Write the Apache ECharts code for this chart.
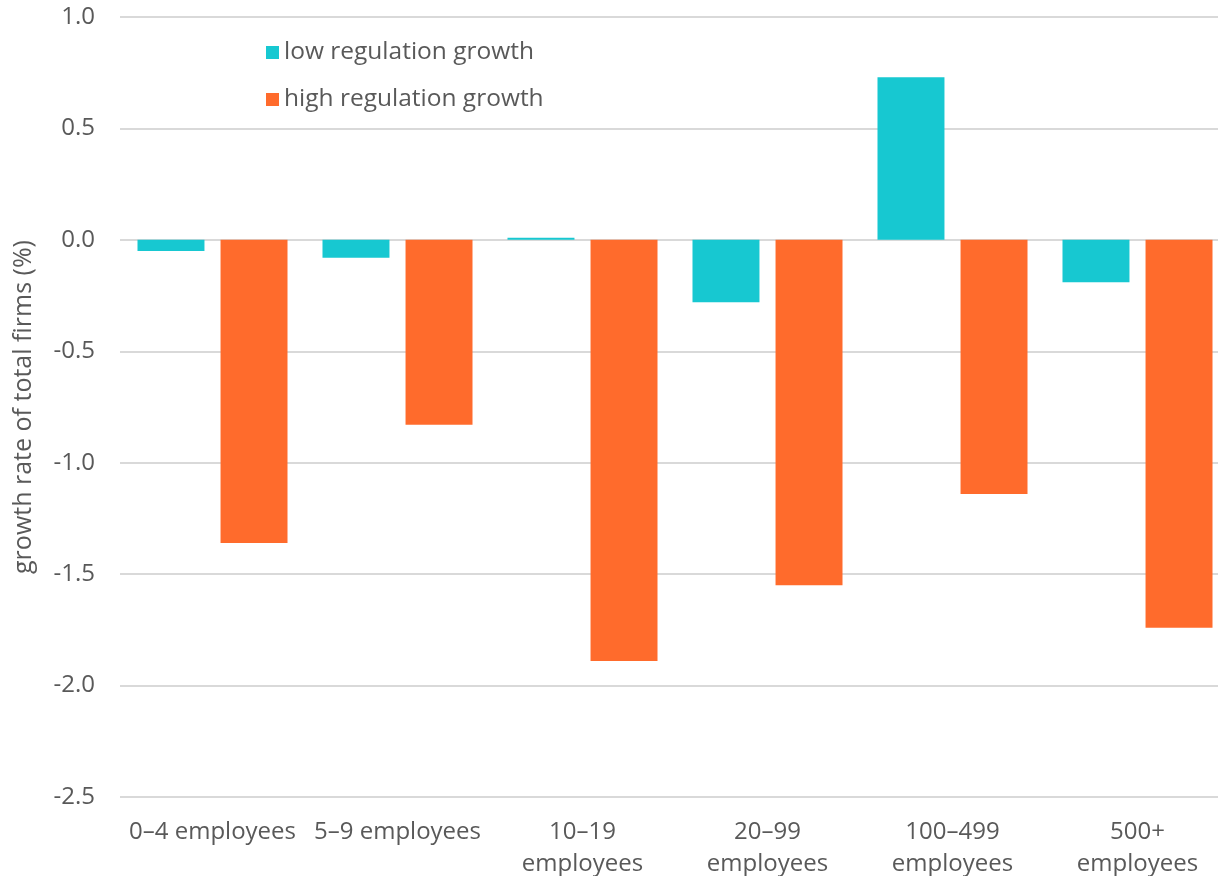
<!DOCTYPE html>
<html>
<head>
<meta charset="utf-8">
<script src="https://cdn.jsdelivr.net/npm/echarts@6/dist/echarts.min.js"></script>
<style>
  html, body { margin: 0; padding: 0; background: #fff; }
  #chart { width: 1218px; height: 876px; }
</style>
</head>
<body>
<div id="chart"></div>
<script>
// chart data
const categories = ['0–4 employees', '5–9 employees', '10–19\nemployees', '20–99\nemployees', '100–499\nemployees', '500+\nemployees'];
const lowRegulation = [-0.05, -0.08, 0.01, -0.28, 0.73, -0.19];
const highRegulation = [-1.36, -0.83, -1.89, -1.55, -1.14, -1.74];

const textColor = '#595959';
const fontFamily = 'Open Sans, sans-serif';

const myChart = echarts.init(document.getElementById('chart'));

const option = {
  animation: false,
  textStyle: { fontFamily: fontFamily },
  grid: {
    left: 120,
    top: 17,
    width: 1110,
    bottom: 79,
    containLabel: false,
    outerBoundsMode: 'none',
  },
  legend: {
    orient: 'vertical',
    left: 261,
    top: 35,
    itemWidth: 13,
    itemHeight: 13,
    itemGap: 22,
    icon: 'rect',
    textStyle: { fontSize: 24.5, color: textColor, fontFamily: fontFamily },
    data: ['low regulation growth', 'high regulation growth'],
  },
  xAxis: {
    type: 'category',
    data: categories,
    axisLine: { show: false },
    axisTick: { show: false },
    axisLabel: {
      color: textColor,
      fontSize: 24,
      lineHeight: 32,
      margin: 19,
      interval: 0,
    },
  },
  yAxis: {
    type: 'value',
    min: -2.5,
    max: 1,
    interval: 0.5,
    name: 'growth rate of total firms (%)',
    nameLocation: 'middle',
    nameGap: 84,
    nameTextStyle: { fontSize: 25, color: textColor },
    axisLine: { show: false },
    axisTick: { show: false },
    axisLabel: {
      color: textColor,
      fontSize: 24,
      margin: 25,
      formatter: (v) => v.toFixed(1),
    },
    splitLine: { lineStyle: { color: '#d9d9d9', width: 2 } },
  },
  series: [
    {
      name: 'low regulation growth',
      type: 'bar',
      data: lowRegulation,
      barWidth: '36.2%',
      barGap: '24%',
      itemStyle: { color: '#17C8D1' },
    },
    {
      name: 'high regulation growth',
      type: 'bar',
      data: highRegulation,
      barWidth: '36.2%',
      itemStyle: { color: '#FF6B2C' },
    },
  ],
};

myChart.setOption(option);
</script>
</body>
</html>
